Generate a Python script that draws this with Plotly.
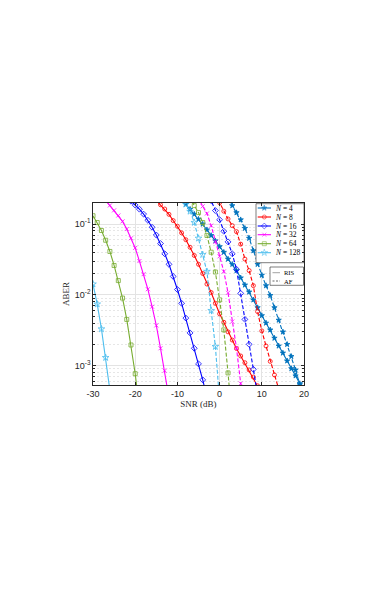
import plotly.graph_objects as go

# ABER vs SNR, RIS (solid) and AF (dashed) for N reflecting elements
snr_ris_4 = list(range(-9, 21))
aber_ris_4 = [0.224, 0.19, 0.162, 0.138, 0.117, 0.100, 0.083, 0.069, 0.058, 0.048,
              0.040, 0.032, 0.027, 0.022, 0.0174, 0.0138, 0.011, 0.0085, 0.0066, 0.0051,
              0.0040, 0.0032, 0.00245, 0.0019, 0.00151, 0.00117, 0.00091, 0.00072, 0.00056, 0.00044]
snr_ris_8 = list(range(-15, 11))
aber_ris_8 = [0.215, 0.187, 0.163, 0.137, 0.112, 0.093, 0.075, 0.060, 0.047, 0.036,
              0.027, 0.020, 0.0142, 0.0108, 0.0076, 0.0054, 0.0041, 0.0030, 0.0023, 0.00175,
              0.00137, 0.00110, 0.00087, 0.00069, 0.00052, 0.00040]
snr_ris_16 = list(range(-21, -2))
aber_ris_16 = [0.21, 0.185, 0.162, 0.138, 0.113, 0.090, 0.070, 0.053, 0.038, 0.027,
               0.0182, 0.0119, 0.0076, 0.0047, 0.0029, 0.00176, 0.00106, 0.00063, 0.00036]
snr_ris_32 = list(range(-27, -11))
aber_ris_32 = [0.215, 0.183, 0.156, 0.132, 0.109, 0.085, 0.063, 0.046, 0.030, 0.0196,
               0.0120, 0.0068, 0.0037, 0.00176, 0.00085, 0.00035]
snr_ris_64 = list(range(-30, -18))
aber_ris_64 = [0.131, 0.105, 0.081, 0.059, 0.041, 0.026, 0.0159, 0.0090, 0.0045, 0.00196,
               0.00077, 0.00025]
snr_ris_128 = list(range(-30, -25))
aber_ris_128 = [0.0142, 0.0074, 0.0033, 0.0013, 0.00045]

snr_af_4 = list(range(2, 21))
aber_af_4 = [0.234, 0.182, 0.145, 0.115, 0.087, 0.063, 0.042, 0.027, 0.019, 0.0135,
             0.0098, 0.0066, 0.0044, 0.0030, 0.0020, 0.00135, 0.00087, 0.00054, 0.00033]
snr_af_8 = list(range(-1, 15))
aber_af_8 = [0.26, 0.20, 0.152, 0.118, 0.095, 0.078, 0.052, 0.032, 0.022, 0.0135,
             0.0058, 0.0031, 0.0019, 0.00115, 0.00074, 0.00047]
snr_af_16 = list(range(-3, 10))
aber_af_16 = [0.29, 0.214, 0.155, 0.115, 0.079, 0.056, 0.038, 0.023, 0.0105, 0.0045,
              0.0020, 0.00089, 0.00038]
snr_af_32 = list(range(-6, 7))
aber_af_32 = [0.29, 0.229, 0.178, 0.141, 0.095, 0.056, 0.035, 0.0214, 0.0107, 0.0042,
              0.00178, 0.00056, 0.0002]
snr_af_64 = list(range(-8, 4))
aber_af_64 = [0.29, 0.229, 0.182, 0.145, 0.105, 0.069, 0.040, 0.021, 0.0085, 0.0032,
              0.00079, 0.00016]
snr_af_128 = list(range(-10, 1))
aber_af_128 = [0.30, 0.24, 0.19, 0.151, 0.105, 0.063, 0.037, 0.0214, 0.0060, 0.00186,
               0.00032]

n_labels = ["4", "8", "16", "32", "64", "128"]
colors = ["#0072BD", "#FF0000", "#0000FF", "#FF00FF", "#77AC30", "#4DBEEE"]
symbols = ["star", "circle-open", "diamond-open", "x-thin-open", "square-open", "star-open"]
sizes = [4, 4, 4.5, 4, 4, 5]

ris = [(snr_ris_4, aber_ris_4), (snr_ris_8, aber_ris_8), (snr_ris_16, aber_ris_16),
       (snr_ris_32, aber_ris_32), (snr_ris_64, aber_ris_64), (snr_ris_128, aber_ris_128)]
af = [(snr_af_4, aber_af_4), (snr_af_8, aber_af_8), (snr_af_16, aber_af_16),
      (snr_af_32, aber_af_32), (snr_af_64, aber_af_64), (snr_af_128, aber_af_128)]

serif = "Liberation Serif, DejaVu Serif, serif"
sans = "Liberation Sans, Arial, sans-serif"

fig = go.Figure()

for i in range(6):
    for (x, y), dash in ((ris[i], "solid"), (af[i], "4px,2px")):
        fig.add_trace(go.Scatter(
            x=x, y=y, mode="lines+markers",
            line=dict(color=colors[i], width=1.1, dash=dash),
            marker=dict(symbol=symbols[i], size=sizes[i], color=colors[i],
                        line=dict(color=colors[i], width=0.8)),
            showlegend=False,
        ))

# plot area in page pixels (used for the hand-made legends)
px_l, px_r, px_t, px_b = 93, 304, 203, 385


def to_paper_x(px):
    return (px - px_l) / (px_r - px_l)


def to_paper_y(py):
    return (px_b - py) / (px_b - px_t)


# hand-made legends on a pixel-unit overlay axis (Plotly's legend rows are too tall)
box1 = dict(x0=256, x1=304, y0=203.7, y1=262.7)
box2 = dict(x0=270, x1=303.5, y0=267, y1=285.3)
for b in (box1, box2):
    fig.add_trace(go.Scatter(
        x=[b["x0"], b["x1"], b["x1"], b["x0"], b["x0"]],
        y=[b["y0"], b["y0"], b["y1"], b["y1"], b["y0"]],
        mode="lines", fill="toself", fillcolor="white",
        line=dict(color="#262626", width=0.6),
        xaxis="x2", yaxis="y2", showlegend=False, hoverinfo="skip",
    ))

rows = [208, 217, 226, 234.7, 243.7, 252.7]
for i in range(6):
    fig.add_trace(go.Scatter(
        x=[257.7, 264.3, 271], y=[rows[i]] * 3, mode="lines+markers",
        line=dict(color=colors[i], width=1.1),
        marker=dict(symbol=symbols[i], size=[0, sizes[i], 0], color=colors[i],
                    line=dict(color=colors[i], width=0.8)),
        xaxis="x2", yaxis="y2", showlegend=False, hoverinfo="skip",
    ))
    fig.add_annotation(x=to_paper_x(273), y=to_paper_y(rows[i]), xref="paper", yref="paper",
                       xanchor="left", yanchor="middle", showarrow=False,
                       text="<i>N</i> = " + n_labels[i],
                       font=dict(family=serif, size=7.5, color="black"))

for row, dash, name in ((272.7, "solid", "RIS"), (281, "2px,1.5px", "AF")):
    fig.add_trace(go.Scatter(
        x=[272.5, 280], y=[row, row], mode="lines",
        line=dict(color="#666666" if dash == "solid" else "black", width=0.6, dash=dash),
        xaxis="x2", yaxis="y2", showlegend=False, hoverinfo="skip",
    ))
    fig.add_annotation(x=to_paper_x(281.5), y=to_paper_y(row), xref="paper", yref="paper",
                       xanchor="left", yanchor="middle", showarrow=False, text=name,
                       font=dict(family=serif, size=6.5, color="black"))

axis_common = dict(
    showline=True, linecolor="#262626", linewidth=0.6, mirror="ticks",
    ticks="inside", ticklen=3, tickcolor="#262626", tickwidth=0.6,
    showgrid=True, gridcolor="#e3e3e3", gridwidth=0.6, zeroline=False,
    tickfont=dict(family=sans, size=9, color="#262626"),
)

# page body has an 8px margin, so the figure is drawn 8px in from the corner
fig.update_layout(
    width=379, height=591,
    margin=dict(l=85, r=83, t=195, b=214),
    paper_bgcolor="white", plot_bgcolor="white",
    font=dict(family=serif, size=9, color="#262626"),
    xaxis=dict(range=[-30, 20], tickvals=[-30, -20, -10, 0, 10, 20],
               ticktext=["-30", "-20", "-10", "0", "10", "20"],
               title=dict(text="SNR (dB)", standoff=2,
                          font=dict(family=serif, size=9, color="#262626")),
               **axis_common),
    yaxis=dict(type="log", range=[-3.273, -0.703],
               tickvals=[1e-3, 1e-2, 1e-1],
               ticktext=["10<sup>-3</sup>", "10<sup>-2</sup>", "10<sup>-1</sup>"],
               minor=dict(dtick="D1", ticks="inside", ticklen=2, tickcolor="#262626",
                          showgrid=True, gridcolor="#e6e6e6", griddash="2px,2px",
                          gridwidth=0.5),
               title=dict(text="ABER", standoff=3,
                          font=dict(family=serif, size=9, color="#262626")),
               **axis_common),
    xaxis2=dict(overlaying="x", range=[px_l, px_r], visible=False, fixedrange=True),
    yaxis2=dict(overlaying="y", range=[px_b, px_t], visible=False, fixedrange=True),
    showlegend=False,
)

fig.write_html("out.html")
